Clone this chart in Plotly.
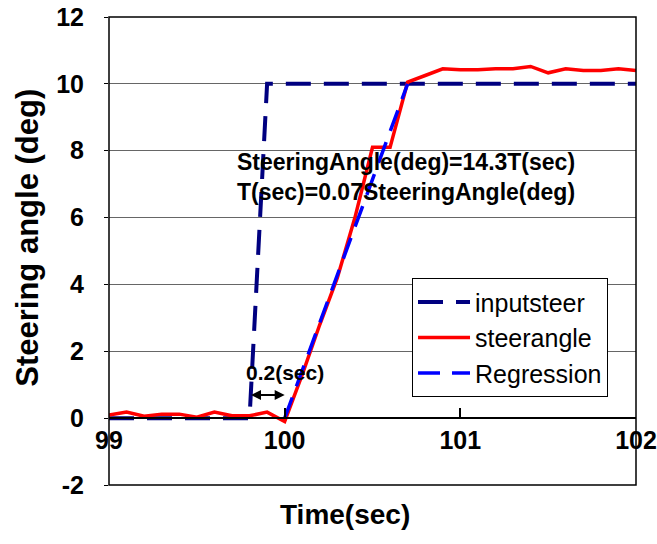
import plotly.graph_objects as go

# ---- data ----
time_sec = [99.0, 99.1, 99.2, 99.3, 99.4, 99.5, 99.6, 99.7, 99.8, 99.9,
            100.0, 100.1, 100.2, 100.3, 100.4, 100.5, 100.6, 100.7, 100.8, 100.9,
            101.0, 101.1, 101.2, 101.3, 101.4, 101.5, 101.6, 101.7, 101.8, 101.9, 102.0]
inputsteer = [0, 0, 0, 0, 0, 0, 0, 0, 0, 10,
              10, 10, 10, 10, 10, 10, 10, 10, 10, 10,
              10, 10, 10, 10, 10, 10, 10, 10, 10, 10, 10]
steerangle = [0.09, 0.18, 0.06, 0.12, 0.12, 0.03, 0.18, 0.07, 0.07, 0.18,
              -0.1, 1.3, 2.8, 4.2, 6.0, 8.1, 8.1, 10.05, 10.25, 10.45,
              10.42, 10.42, 10.45, 10.45, 10.52, 10.33, 10.45, 10.4, 10.4, 10.45, 10.4]
regression_t = [100.0, 100.7]
regression_angle = [0.0, 10.0]

x_ticks = [99, 100, 101, 102]
y_ticks = [-2, 0, 2, 4, 6, 8, 10, 12]
y_ticktext = ["-2", "0", "2", "4", "6", "8", "10", "12"]
delay_start, delay_end = 99.8, 100.0

FONT = "Liberation Sans, Arial, sans-serif"

fig = go.Figure()
fig.add_trace(go.Scatter(x=time_sec, y=inputsteer, mode="lines", name="inputsteer",
                         legendgroup="a",
                         line=dict(color="#000080", width=4, dash="25px,13px")))
fig.add_trace(go.Scatter(x=time_sec, y=steerangle, mode="lines", name="steerangle",
                         legendgroup="b",
                         line=dict(color="#FF0000", width=3.5)))
fig.add_trace(go.Scatter(x=regression_t, y=regression_angle, mode="lines", name="Regression",
                         legendgroup="c",
                         line=dict(color="#0000FF", width=3.5, dash="22px,12px")))

fig.update_layout(
    width=657, height=544,
    margin=dict(l=109, r=21, t=17, b=59),
    paper_bgcolor="white", plot_bgcolor="white",
    font=dict(family=FONT, color="black"),
    showlegend=True,
    legend=dict(x=0.575, y=0.442, xanchor="left", yanchor="top",
                bgcolor="white", bordercolor="black", borderwidth=1,
                font=dict(family=FONT, size=25, color="black"),
                tracegroupgap=0, itemwidth=52),
    xaxis=dict(range=[99, 102], tickvals=x_ticks, ticktext=[str(v) for v in x_ticks],
               anchor="free", position=2 / 14, automargin=False, ticklabeloverflow="allow",
               showline=True, linecolor="black", linewidth=1.5,
               ticks="inside", ticklen=9, tickcolor="black", tickwidth=1.5,
               showgrid=False, zeroline=False,
               tickfont=dict(family=FONT, size=25, weight="bold", color="black")),
    yaxis=dict(range=[-2, 12], tickvals=y_ticks, ticktext=y_ticktext, automargin=False,
               ticklabeloverflow="allow",
               showgrid=True, gridcolor="#666666", gridwidth=1,
               ticks="outside", ticklen=4, tickcolor="black",
               showline=False, zeroline=False, ticklabelstandoff=15,
               tickfont=dict(family=FONT, size=25, weight="bold", color="black")),
    shapes=[dict(type="rect", xref="paper", yref="paper", x0=0, y0=0, x1=1, y1=1,
                 line=dict(color="black", width=1.5), layer="above")],
    annotations=[
        dict(text="SteeringAngle(deg)=14.3T(sec)", x=99.717, y=7.66, xref="x", yref="y",
             xanchor="left", yanchor="middle", showarrow=False,
             font=dict(family=FONT, size=23, weight="bold", color="black")),
        dict(text="T(sec)=0.07SteeringAngle(deg)", x=99.717, y=6.76, xref="x", yref="y",
             xanchor="left", yanchor="middle", showarrow=False,
             font=dict(family=FONT, size=23, weight="bold", color="black")),
        dict(text="0.2(sec)", x=delay_end, y=1.38, xref="x", yref="y",
             xanchor="center", yanchor="middle", showarrow=False,
             font=dict(family=FONT, size=21, weight="bold", color="black")),
        dict(text="", x=delay_end, y=0.69, ax=delay_start, ay=0.69,
             xref="x", yref="y", axref="x", ayref="y",
             showarrow=True, arrowside="end+start", arrowhead=2, arrowsize=1,
             arrowwidth=2, arrowcolor="black"),
        dict(text="Time(sec)", x=0.448, y=-0.064, xref="paper", yref="paper",
             xanchor="center", yanchor="middle", showarrow=False,
             font=dict(family=FONT, size=28, weight="bold", color="black")),
        dict(text="Steering angle (deg)", x=-0.154, y=0.528, xref="paper", yref="paper",
             xanchor="center", yanchor="middle", showarrow=False, textangle=-90,
             font=dict(family=FONT, size=31, weight="bold", color="black")),
    ],
)

fig.write_html(
    "out.html",
    config={"displayModeBar": False},
    post_script="document.body.style.margin='0';document.body.style.overflow='hidden';",
)
